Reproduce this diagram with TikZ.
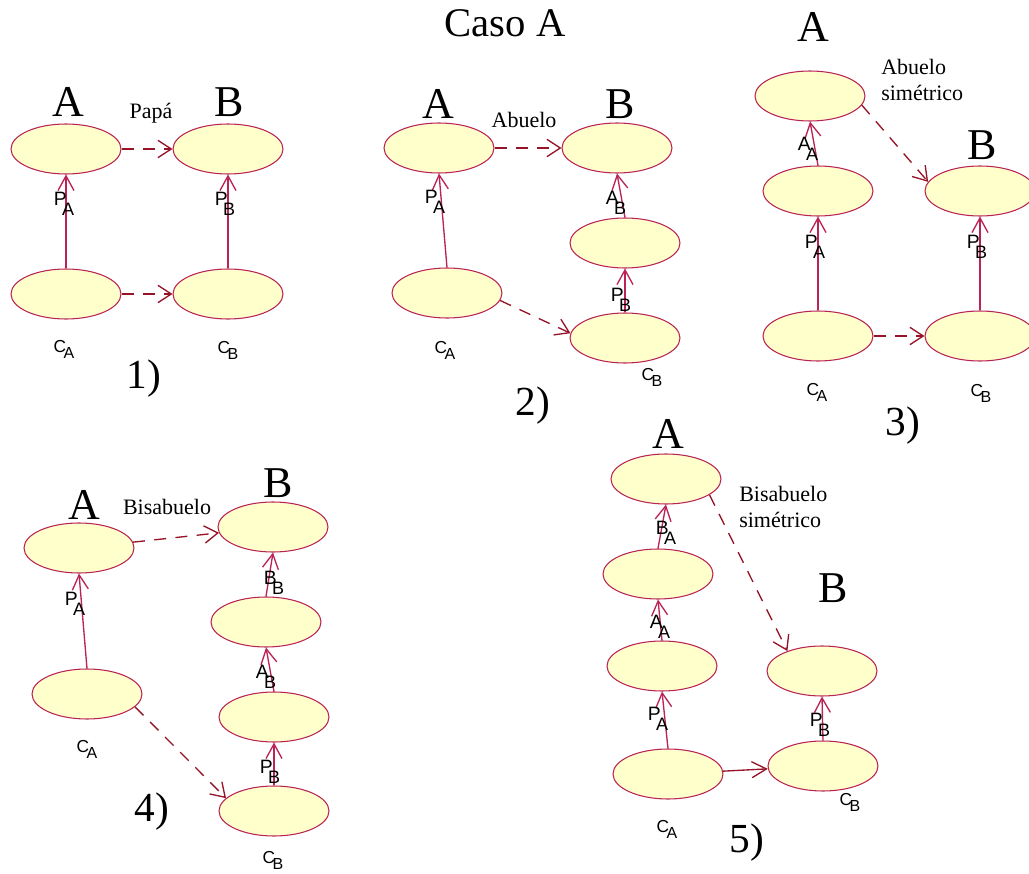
\documentclass[tikz,border=0pt]{standalone}
\usepackage{fontspec}
\setmainfont{Liberation Serif}
\setsansfont{Liberation Sans}
\usetikzlibrary{shapes.geometric,arrows.meta}

\definecolor{edgered}{RGB}{185,35,85}
\definecolor{depred}{RGB}{150,20,40}
\definecolor{classfill}{RGB}{255,255,204}

\newcommand*{\rellbl}[2]{#1\kern-3.5pt\raisebox{-7pt}{\fontsize{13.5}{13.5}\selectfont#2}}
\newcommand*{\clslbl}[1]{C\kern-2pt\raisebox{-4.5pt}{\fontsize{12}{12}\selectfont#1}}

\begin{document}
\begin{tikzpicture}
[
	x=0.75pt, y=-0.75pt,
	cls/.style={ellipse,draw=edgered,fill=classfill,line width=0.8pt,minimum width=82.5pt,minimum height=37.5pt,inner sep=0pt},
	gen/.style={draw=edgered,line width=1pt,-{Straight Barb[length=11pt,width=12pt]}},
	dep/.style={draw=depred,line width=1pt,dash pattern=on 9pt off 7pt,-{Straight Barb[length=10pt,width=13pt]}},
	big/.style={font=\fontsize{33}{36}\selectfont,inner sep=0pt},
	num/.style={font=\fontsize{31}{34}\selectfont,inner sep=0pt},
	note/.style={font=\fontsize{16.5}{19}\selectfont,align=left,inner sep=0pt},
	rel/.style={font=\sffamily\fontsize{14.5}{14.5}\selectfont,inner sep=0pt},
	clsname/.style={font=\sffamily\fontsize{13}{13}\selectfont,inner sep=0pt}
]

	\useasboundingbox (0,0) rectangle (1029,874);

	% title
	\node[font=\fontsize{30.5}{33}\selectfont,inner sep=0pt] (title) at (505,23) {Caso A};

	% panel 1
	\node[cls] (A1) at (66,149) {};
	\node[cls] (B1) at (228,149) {};
	\node[cls] (CA1) at (66,294) {};
	\node[cls] (CB1) at (228,294) {};
	\node[big] (nA1) at (68,102) {A};
	\node[big] (nB1) at (229,102) {B};
	\node[note] (papa) at (151,113) {Papá};
	\draw[dep] (A1) -- (B1);
	\draw[dep] (CA1) -- (CB1);
	\draw[gen] (CA1.north) -- (A1.south);
	\draw[gen] (CB1.north) -- (B1.south);
	\node[rel] at (64,204) {\rellbl{P}{A}};
	\node[rel] at (225,204) {\rellbl{P}{B}};
	\node[clsname] at (64,349) {\clslbl{A}};
	\node[clsname] at (228,350) {\clslbl{B}};
	\node[num] (n1) at (144,379) {1)};

	% panel 2
	\node[cls] (A2) at (439,148) {};
	\node[cls] (B2) at (617,148) {};
	\node[cls] (PB2) at (625,243) {};
	\node[cls] (CA2) at (447,293) {};
	\node[cls] (CB2) at (625,338) {};
	\node[big] (nA2) at (438,104) {A};
	\node[big] (nB2) at (620,104) {B};
	\node[note] (abuelo) at (524,120) {Abuelo};
	\draw[dep] (A2) -- (B2);
	\draw[dep] (CA2.-8) -- (CB2.175);
	\draw[gen] (CA2.north) -- (A2.south);
	\draw[gen] (CB2.north) -- (PB2.south);
	\draw[gen] (PB2.north) -- (B2.south);
	\node[rel] at (435,202) {\rellbl{P}{A}};
	\node[rel] at (616,203) {\rellbl{A}{B}};
	\node[rel] at (621,300) {\rellbl{P}{B}};
	\node[clsname] at (445,350) {\clslbl{A}};
	\node[clsname] at (652,377) {\clslbl{B}};
	\node[num] (n2) at (533,406) {2)};

	% panel 3
	\node[cls] (A3) at (810,96) {};
	\node[cls] (PA3) at (818,191) {};
	\node[cls] (CA3) at (818,336) {};
	\node[cls] (B3) at (980,191) {};
	\node[cls] (CB3) at (980,336) {};
	\node[big] (nA3) at (813,27) {A};
	\node[big] (nB3) at (982,145) {B};
	\node[note,anchor=west] (abuelosim) at (881,80) {Abuelo\\simétrico};
	\draw[dep] (A3.-10) -- (B3.170);
	\draw[dep] (CA3) -- (CB3);
	\draw[gen] (CA3.north) -- (PA3.south);
	\draw[gen] (PA3.north) -- (A3.south);
	\draw[gen] (CB3.north) -- (B3.south);
	\node[rel] at (808,149) {\rellbl{A}{A}};
	\node[rel] at (815,247) {\rellbl{P}{A}};
	\node[rel] at (977,247) {\rellbl{P}{B}};
	\node[clsname] at (817,392) {\clslbl{A}};
	\node[clsname] at (981,393) {\clslbl{B}};
	\node[num] (n3) at (903,426) {3)};

	% panel 4
	\node[cls] (A4) at (79,548) {};
	\node[cls] (CA4) at (87,694) {};
	\node[cls] (B4) at (273,527) {};
	\node[cls] (AB4) at (266,622) {};
	\node[cls] (PB4) at (274,717) {};
	\node[cls] (CB4) at (274,811) {};
	\node[big] (nA4) at (84,505) {A};
	\node[big] (nB4) at (278,483) {B};
	\node[note] (bisabuelo) at (167,507) {Bisabuelo};
	\draw[dep] (A4) -- (B4);
	\draw[dep] (CA4.-15) -- (CB4.165);
	\draw[gen] (CA4.north) -- (A4.south);
	\draw[gen] (CB4.north) -- (PB4.south);
	\draw[gen] (PB4.north) -- (AB4.south);
	\draw[gen] (AB4.north) -- (B4.south);
	\node[rel] at (75,604) {\rellbl{P}{A}};
	\node[rel] at (274,583) {\rellbl{B}{B}};
	\node[rel] at (266,677) {\rellbl{A}{B}};
	\node[rel] at (270,772) {\rellbl{P}{B}};
	\node[clsname] at (87,749) {\clslbl{A}};
	\node[clsname] at (273,860) {\clslbl{B}};
	\node[num] (n4) at (152,812) {4)};

	% panel 5
	\node[cls] (A5) at (666,479) {};
	\node[cls] (AA5) at (658,574) {};
	\node[cls] (PA5) at (662,666) {};
	\node[cls] (CA5) at (668,774) {};
	\node[cls] (B5) at (822,671) {};
	\node[cls] (CB5) at (823,766) {};
	\node[big] (nA5) at (668,434) {A};
	\node[big] (nB5) at (833,588) {B};
	\node[note,anchor=west] (bisabuelosim) at (739,507) {Bisabuelo\\simétrico};
	\draw[dep] (A5.-20) -- (B5.150);
	\draw[gen,draw=depred] (CA5) -- (CB5);
	\draw[gen] (CA5.north) -- (PA5.south);
	\draw[gen] (PA5.north) -- (AA5.south);
	\draw[gen] (AA5.north) -- (A5.south);
	\draw[gen] (CB5.north) -- (B5.south);
	\node[rel] at (666,533) {\rellbl{B}{A}};
	\node[rel] at (660,627) {\rellbl{A}{A}};
	\node[rel] at (658,719) {\rellbl{P}{A}};
	\node[rel] at (820,725) {\rellbl{P}{B}};
	\node[clsname] at (667,829) {\clslbl{A}};
	\node[clsname] at (850,802) {\clslbl{B}};
	\node[num] (n5) at (747,843) {5)};

\end{tikzpicture}
\end{document}
